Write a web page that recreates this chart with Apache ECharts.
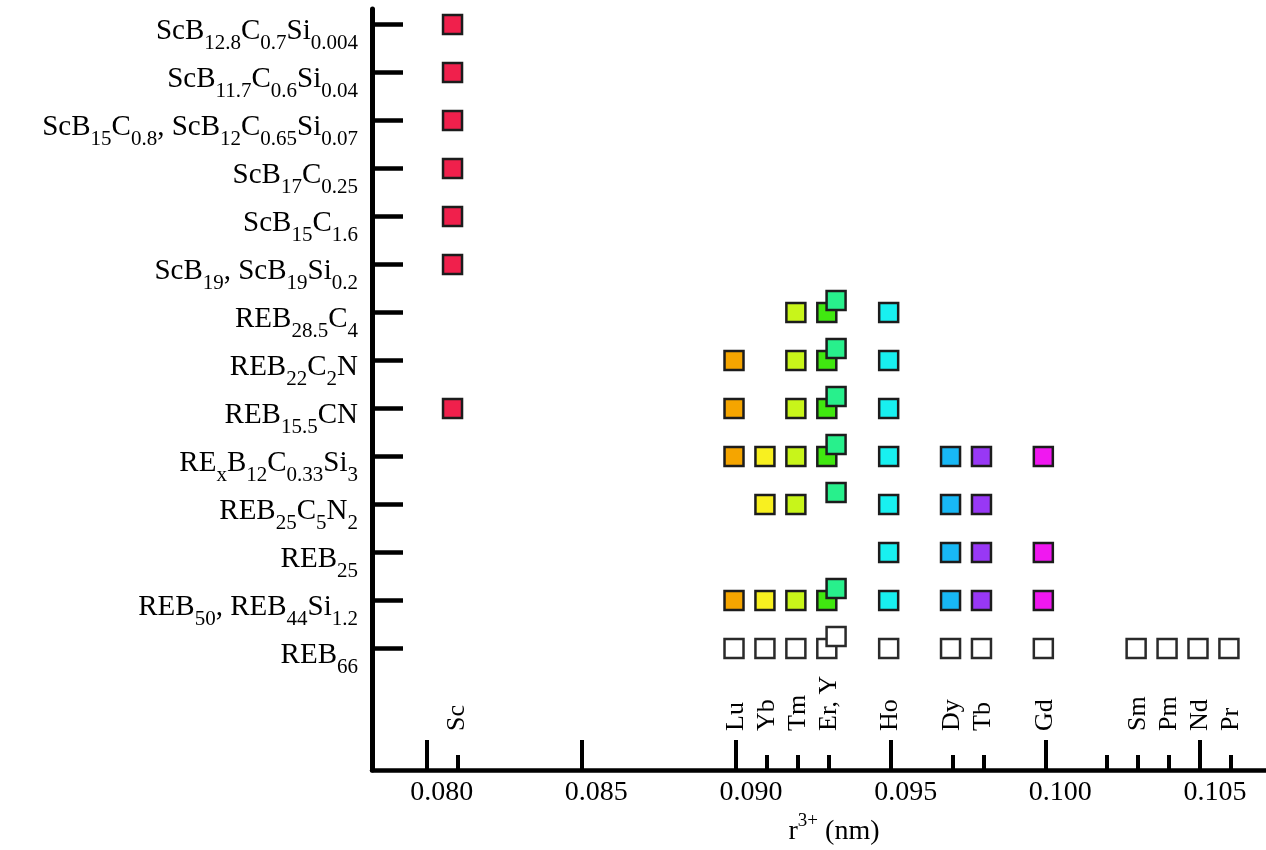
<!DOCTYPE html>
<html><head><meta charset="utf-8">
<script src="https://cdn.jsdelivr.net/npm/echarts@6/dist/echarts.min.js"></script>
<style>html,body{margin:0;padding:0;background:#fff}#c{width:1266px;height:850px}</style>
</head><body><div id="c"></div>
<script>
// ---- data ----
const rowFormulas = [
  'ScB_{12.8}C_{0.7}Si_{0.004}',
  'ScB_{11.7}C_{0.6}Si_{0.04}',
  'ScB_{15}C_{0.8}, ScB_{12}C_{0.65}Si_{0.07}',
  'ScB_{17}C_{0.25}',
  'ScB_{15}C_{1.6}',
  'ScB_{19}, ScB_{19}Si_{0.2}',
  'REB_{28.5}C_{4}',
  'REB_{22}C_{2}N',
  'REB_{15.5}CN',
  'RE_{x}B_{12}C_{0.33}Si_{3}',
  'REB_{25}C_{5}N_{2}',
  'REB_{25}',
  'REB_{50}, REB_{44}Si_{1.2}',
  'REB_{66}'
];
const rowIndex = rowFormulas.map((_, i) => i);

const majorTicks = [0.080, 0.085, 0.090, 0.095, 0.100, 0.105];
const elementTicks = [0.081, 0.090, 0.091, 0.092, 0.093, 0.095, 0.097, 0.098, 0.100, 0.102, 0.103, 0.104, 0.105, 0.106];
const elementTickLabels = ['Sc', 'Lu', 'Yb', 'Tm', 'Er, Y', 'Ho', 'Dy', 'Tb', 'Gd', '', 'Sm', 'Pm', 'Nd', 'Pr'];

const elementNames = ['Sc', 'Lu', 'Yb', 'Tm', 'Er', 'Y', 'Ho', 'Dy', 'Tb', 'Gd'];
const elementRadii = [0.0809, 0.090, 0.091, 0.092, 0.093, 0.0933, 0.095, 0.097, 0.098, 0.100];
const elementColors = ['#f0204c', '#f5a500', '#f8f020', '#c8f51a', '#40e810', '#28f08c', '#18f0f0', '#18b8f5', '#9838f5', '#f018f0'];
const elementRows = [
  [0, 1, 2, 3, 4, 5, 8],
  [7, 8, 9, 12],
  [9, 10, 12],
  [6, 7, 8, 9, 10, 12],
  [6, 7, 8, 9, 12],
  [6, 7, 8, 9, 10, 12],
  [6, 7, 8, 9, 10, 11, 12],
  [9, 10, 11, 12],
  [9, 10, 11, 12],
  [9, 11, 12]
];
const reb66Elements = ['Lu', 'Yb', 'Tm', 'Er', 'Y', 'Ho', 'Dy', 'Tb', 'Gd', 'Sm', 'Pm', 'Nd', 'Pr'];
const reb66Radii = [0.090, 0.091, 0.092, 0.093, 0.0933, 0.095, 0.097, 0.098, 0.100, 0.103, 0.104, 0.105, 0.106];
const reb66Row = 13;

// ---- chart ----
const FONT = '"Liberation Serif", "Times New Roman", serif';
const X_MIN = 0.078232, X_MAX = 0.107134;
const Y_MIN = -0.323, Y_MAX = 15.53;
const BORDER = '#1c1c1c';

function toRich(f) {
  const parts = f.split(/_\{([^}]*)\}/);
  return parts.map((p, i) => p === '' ? '' : (i % 2 ? '{s|' + p + '}' : '{n|' + p + '}')).join('');
}
function elementLabel(v) {
  const i = elementTicks.findIndex(t => Math.abs(t - v) < 1e-7);
  return i < 0 ? '' : elementTickLabels[i];
}

const scatterSeries = elementNames.map((name, i) => ({
  type: 'scatter', name, xAxisIndex: 0, yAxisIndex: 0,
  symbol: 'rect', symbolSize: 19,
  symbolOffset: name === 'Y' ? [-2, -12] : [-2, 0],
  itemStyle: { color: elementColors[i], borderColor: BORDER, borderWidth: 2.5, opacity: 1 },
  data: elementRows[i].map(r => [elementRadii[i], r]),
  z: name === 'Y' ? 4 : 3, silent: true
}));
scatterSeries.push({
  type: 'scatter', name: 'REB66', xAxisIndex: 0, yAxisIndex: 0,
  symbol: 'rect', symbolSize: 19,
  itemStyle: { color: '#ffffff', borderColor: '#2a2a2a', borderWidth: 2.5, opacity: 1 },
  data: reb66Elements.map((el, i) => ({
    value: [reb66Radii[i], reb66Row],
    symbolOffset: el === 'Y' ? [-2, -12] : [-2, 0]
  })),
  z: 3, silent: true
});

const chart = echarts.init(document.getElementById('c'), null, { renderer: 'canvas' });
chart.setOption({
  animation: false,
  backgroundColor: '#ffffff',
  grid: { left: 372, right: 0, top: 9, bottom: 80, containLabel: false, outerBoundsMode: 'none' },
  xAxis: [
    {
      type: 'value', min: X_MIN, max: X_MAX, position: 'bottom',
      axisLine: { show: true, onZero: false, lineStyle: { color: '#000', width: 4.5 } },
      axisTick: { show: true, inside: true, length: 30, customValues: majorTicks, lineStyle: { color: '#000', width: 4 } },
      axisLabel: {
        customValues: majorTicks, formatter: v => v.toFixed(3), margin: 9,
        padding: [0, 0, 0, 30], fontSize: 28, fontFamily: FONT, color: '#000'
      },
      splitLine: { show: false },
      name: '{r|r}{p|3+}{r| (nm)}', nameLocation: 'middle', nameGap: 40,
      nameTextStyle: {
        padding: [0, 0, 0, 30],
        rich: {
          r: { fontSize: 28, fontFamily: FONT, color: '#000', lineHeight: 40, verticalAlign: 'middle' },
          p: { fontSize: 19, fontFamily: FONT, color: '#000', lineHeight: 8, verticalAlign: 'top' }
        }
      }
    },
    {
      type: 'value', min: X_MIN, max: X_MAX, position: 'bottom',
      axisLine: { show: false, onZero: false },
      axisTick: { show: true, inside: true, length: 15, customValues: elementTicks, lineStyle: { color: '#000', width: 4 } },
      axisLabel: {
        inside: true, rotate: 90, customValues: elementTicks, formatter: elementLabel,
        margin: 39, fontSize: 26, fontFamily: FONT, color: '#000'
      },
      splitLine: { show: false }
    }
  ],
  yAxis: {
    type: 'value', inverse: true, min: Y_MIN, max: Y_MAX,
    axisLine: { show: true, onZero: false, lineStyle: { color: '#000', width: 5 } },
    axisTick: { show: true, inside: true, length: 31, customValues: rowIndex, lineStyle: { color: '#000', width: 4.5 } },
    axisLabel: {
      customValues: rowIndex, margin: 14, padding: [14, 0, 0, 0],
      formatter: v => toRich(rowFormulas[Math.round(v)]),
      rich: {
        n: { fontSize: 29, fontFamily: FONT, color: '#000', lineHeight: 44, verticalAlign: 'middle' },
        s: { fontSize: 21, fontFamily: FONT, color: '#000', lineHeight: 6, verticalAlign: 'bottom' }
      }
    },
    splitLine: { show: false }
  },
  series: scatterSeries
});
</script>
</body></html>
